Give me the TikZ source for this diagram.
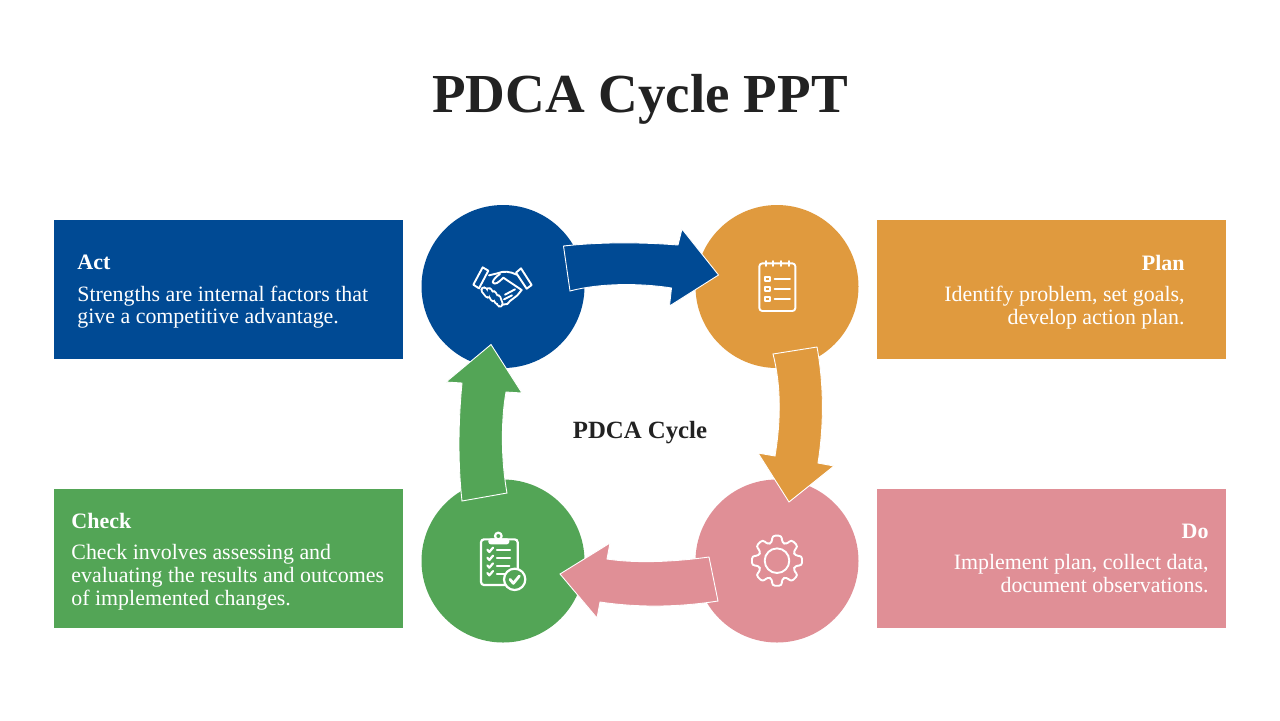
\documentclass[tikz,border=0pt]{standalone}
\usepackage{fontspec}
\setmainfont{Liberation Serif}
\definecolor{cblue}{HTML}{004A94}
\definecolor{corange}{HTML}{E09A3E}
\definecolor{cgreen}{HTML}{53A556}
\definecolor{cpink}{HTML}{E08F96}
\definecolor{cink}{HTML}{222222}
\tikzset{
  panel/.style={inner sep=0pt,minimum width=174.5pt,minimum height=69.5pt,anchor=north west,draw=none},
  disc/.style={circle,inner sep=0pt,minimum size=81.5pt,draw=none},
  blockarrow/.style={draw=white,line width=0.45pt,line join=miter},
  bodytext/.style={text=white,inner sep=0pt,font=\fontsize{10.95}{11.4}\selectfont},
  icon/.style={draw=white,line width=1.1pt,line cap=round,line join=round},
  thin icon/.style={draw=white,line width=0.95pt,line cap=round,line join=round},
}
\begin{document}
\begin{tikzpicture}[x=0.5pt,y=-0.5pt]
\useasboundingbox (0,0) rectangle (1280,720);
\fill[white] (0,0) rectangle (1280,720);

\node[anchor=base,text=cink,inner sep=0pt,font=\fontsize{27.5}{30}\selectfont\bfseries] (title) at (640,112) {PDCA Cycle PPT};

% panels
\node[panel,fill=cblue] (actbox) at (54,220) {};
\node[panel,fill=corange] (planbox) at (877,220) {};
\node[panel,fill=cgreen] (checkbox) at (54,489) {};
\node[panel,fill=cpink] (dobox) at (877,489) {};

% discs
\node[disc,fill=cblue] (act) at (503,286.5) {};
\node[disc,fill=corange] (plan) at (777,286.5) {};
\node[disc,fill=cgreen] (check) at (503,561) {};
\node[disc,fill=cpink] (do) at (777,561) {};

% arrows
\path[blockarrow,fill=cblue] (563.5,246) .. controls (600,242) and (640,242) .. (678,245)
  -- (682,229) -- (718.5,275) -- (669.5,306) -- (671.5,288)
  .. controls (640,283) and (600,283) .. (570,291) -- cycle;
\path[blockarrow,fill=corange] (773,354) .. controls (781,385) and (781,420) .. (775,456)
  -- (758,453) -- (789,502) -- (834,466) -- (818,463)
  .. controls (824,425) and (824,385) .. (817,347) -- cycle;
\path[blockarrow,fill=cpink] (709,557) .. controls (680,561) and (640,564) .. (607,559)
  -- (610,543) -- (560,574) -- (597,618) -- (600,602)
  .. controls (640,608) and (680,607) .. (718,601) -- cycle;
\path[blockarrow,fill=cgreen] (462,501) .. controls (458,465) and (458,425) .. (462,383)
  -- (446,382) -- (491,344.5) -- (522,393) -- (506,392)
  .. controls (501,420) and (501,460) .. (507,493) -- cycle;

\node[anchor=base,text=cink,inner sep=0pt,font=\fontsize{12.4}{14}\selectfont\bfseries] (centre) at (640,438) {PDCA Cycle};

% texts
\node[bodytext,anchor=north west,align=left] (acttext) at (77,254.5) {{\fontsize{11}{12}\selectfont\bfseries Act}\\[4.4pt]Strengths are internal factors that\\give a competitive advantage.};
\node[bodytext,anchor=north east,align=right] (plantext) at (1185,254.5) {{\fontsize{11}{12}\selectfont\bfseries Plan}\\[4.4pt]Identify problem, set goals,\\develop action plan.};
\node[bodytext,anchor=north west,align=left] (checktext) at (71,512.5) {{\fontsize{11}{12}\selectfont\bfseries Check}\\[4.4pt]Check involves assessing and\\evaluating the results and outcomes\\of implemented changes.};
\node[bodytext,anchor=north east,align=right] (dotext) at (1209,523.5) {{\fontsize{11}{12}\selectfont\bfseries Do}\\[4.4pt]Implement plan, collect data,\\document observations.};

% handshake icon
\begin{scope}[shift={(420,200)},x=0.16667pt,y=-0.16667pt]
  \draw[thin icon] (188,202) -- (205,212) -- (177,265) -- (160,254) -- cycle;
  \draw[thin icon] (303,205) -- (335,255) -- (320,266) -- (288,218) -- cycle;
  \draw[thin icon] (207,226) -- (232,220) .. controls (250,212) and (270,214) .. (290,224);
  \draw[thin icon] (240,222) .. controls (228,230) and (220,238) .. (218,247) .. controls (225,256) and (235,248) .. (250,233) -- (305,270) -- (292,286) -- (270,303) -- (262,312) -- (245,314);
  \draw[thin icon] (255,284) -- (285,268);
  \draw[thin icon] (252,298) -- (276,286);
  \foreach \a/\b/\c/\d in {192/270/204/285,207/272/220/296,220/281/233/305,233/293/240/312}{
    \draw[line width=3.6pt,draw=white,line cap=round] (\a,\b) -- (\c,\d);
  }
  \foreach \a/\b/\c/\d in {192/270/204/285,207/272/220/296,220/281/233/305,233/293/240/312}{
    \draw[line width=1.7pt,draw=cblue,line cap=round] (\a,\b) -- (\c,\d);
  }
\end{scope}

% notepad icon
\begin{scope}[shift={(660,200)},x=0.16667pt,y=-0.16667pt]
  \draw[thin icon,rounded corners=1.5pt] (298,190) rectangle (406,333);
  \foreach \x in {317,340,363,387}{\draw[thin icon] (\x,183) -- (\x,198);}
  \foreach \y in {238,268,297}{
    \draw[thin icon] (316,\y-6) rectangle (330,\y+6);
    \draw[thin icon] (344,\y) -- (390,\y);
  }
\end{scope}

% gear icon
\begin{scope}[shift={(777,560.7)}]
  \draw[thin icon,rounded corners=1.5pt]
    (-15:18.8) -- (-11:25.5) -- (11:25.5) -- (15:18.8)
    -- (30:18.8) -- (34:25.5) -- (56:25.5) -- (60:18.8)
    -- (75:18.8) -- (79:25.5) -- (101:25.5) -- (105:18.8)
    -- (120:18.8) -- (124:25.5) -- (146:25.5) -- (150:18.8)
    -- (165:18.8) -- (169:25.5) -- (191:25.5) -- (195:18.8)
    -- (210:18.8) -- (214:25.5) -- (236:25.5) -- (240:18.8)
    -- (255:18.8) -- (259:25.5) -- (281:25.5) -- (285:18.8)
    -- (300:18.8) -- (304:25.5) -- (326:25.5) -- (330:18.8) -- cycle;
  \draw[thin icon] (0,0) circle[radius=12.3];
\end{scope}

% clipboard icon
\begin{scope}[shift={(420,470)},x=0.16667pt,y=-0.16667pt]
  \draw[icon,rounded corners=1.5pt] (183,208) rectangle (293,345);
  \draw[icon,fill=white,rounded corners=1pt] (208,220) -- (208,208) -- (265,208) -- (265,220) -- cycle;
  \draw[icon,fill=cgreen] (235,198) circle[radius=10];
  \foreach \y/\e in {241/270,265/270,288/268,311/255}{
    \draw[icon] (202,\y-2) -- (208,\y+5) -- (219,\y-8);
    \draw[icon] (231,\y) -- (\e,\y);
  }
  \draw[icon,fill=cgreen] (284,328) circle[radius=32];
  \draw[icon,line width=1.4pt] (270,328) -- (280,340) -- (298,318);
\end{scope}
\end{tikzpicture}
\end{document}
